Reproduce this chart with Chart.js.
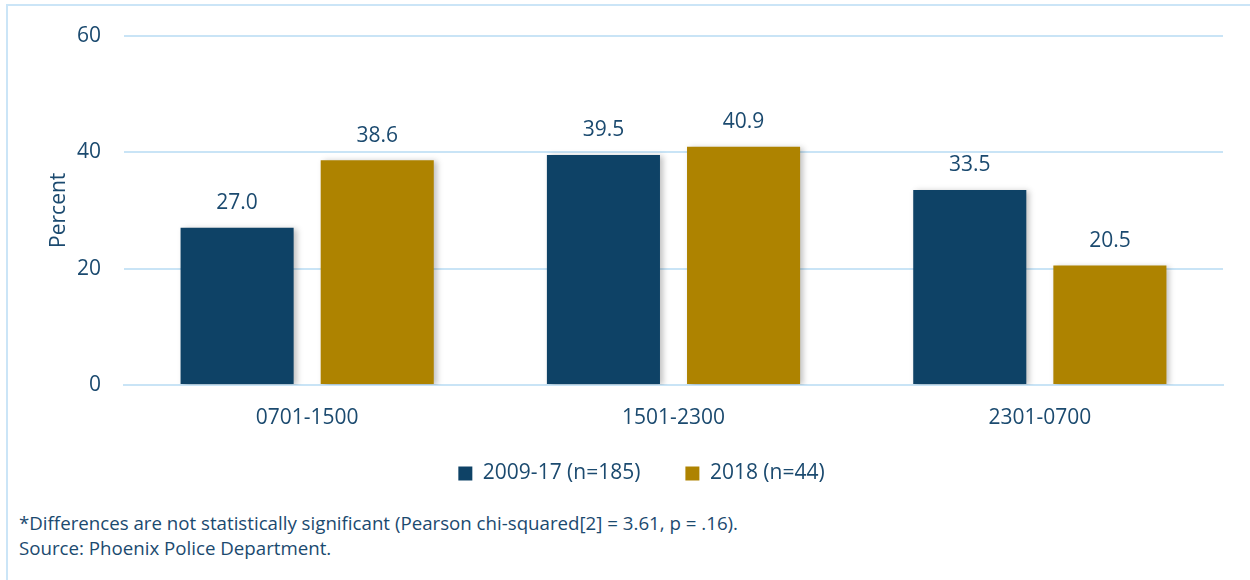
<!DOCTYPE html>
<html>
<head>
<meta charset="utf-8">
<script src="https://cdn.jsdelivr.net/npm/chart.js@4/dist/chart.umd.min.js"></script>
<style>
  html, body { margin: 0; padding: 0; background: #fff; }
  body { width: 1250px; height: 580px; position: relative; overflow: hidden; font-family: 'Open Sans', sans-serif; }
  .frame { position: absolute; left: 6px; top: 4px; right: -10px; bottom: -10px; border-top: 2px solid #cbe5f7; border-left: 2px solid #cbe5f7; }
  .wrap { position: absolute; left: 0; top: 0; width: 1250px; height: 506px; }
  .note { position: absolute; left: 19px; top: 510px; color: #1b4a6f; font-size: 18.7px; line-height: 25px; }
</style>
</head>
<body>
<div class="frame"></div>
<div class="wrap"><canvas id="bar-chart"></canvas></div>
<div class="note">
  *Differences are not statistically significant (Pearson chi-squared[2] = 3.61, p = .16).<br>
  Source: Phoenix Police Department.
</div>
<script>
const categories = ['0701-1500', '1501-2300', '2301-0700'];
const seriesNames = ['2009-17 (n=185)', '2018 (n=44)'];
const values0917 = [27.0, 39.5, 33.5];
const values2018 = [38.6, 40.9, 20.5];
const yTicks = [0, 20, 40, 60];

const NAVY = '#0e4266';
const GOLD = '#ae8300';
const TEXT = '#1b4a6f';
const GRID = '#c9e4f6';
const FONT = "'Open Sans', sans-serif";
const FS = 21;

// values over each bar
const valueLabels = {
  id: 'valueLabels',
  afterDatasetsDraw(chart) {
    const ctx = chart.ctx;
    ctx.save();
    ctx.fillStyle = TEXT;
    ctx.font = FS + 'px ' + FONT;
    ctx.textAlign = 'center';
    ctx.textBaseline = 'bottom';
    chart.data.datasets.forEach((ds, i) => {
      chart.getDatasetMeta(i).data.forEach((bar, j) => {
        ctx.fillText(ds.data[j].toFixed(1), bar.x, bar.y - 14);
      });
    });
    ctx.restore();
  }
};

// soft shadow on the bars
const barShadow = {
  id: 'barShadow',
  beforeDatasetsDraw(chart) {
    const ctx = chart.ctx;
    ctx.save();
    ctx.shadowColor = 'rgba(0,0,0,0.25)';
    ctx.shadowBlur = 6;
    ctx.shadowOffsetX = 3;
    ctx.shadowOffsetY = 1;
  },
  afterDatasetsDraw(chart) {
    chart.ctx.restore();
  }
};

// legend padding also spaces the items apart; nudge the block into place
const legendNudge = {
  id: 'legendNudge',
  afterLayout(chart) {
    const lg = chart.legend;
    lg.top -= 12;
    lg.bottom -= 12;
    lg.left += 7;
    lg.right += 7;
  }
};

new Chart(document.getElementById('bar-chart').getContext('2d'), {
  type: 'bar',
  data: {
    labels: categories,
    datasets: [
      { label: seriesNames[0], data: values0917, backgroundColor: NAVY },
      { label: seriesNames[1], data: values2018, backgroundColor: GOLD }
    ]
  },
  options: {
    responsive: true,
    maintainAspectRatio: false,
    animation: false,
    datasets: { bar: { categoryPercentage: 0.765, barPercentage: 0.807 } },
    layout: { padding: { left: 46, right: 27, top: 24, bottom: 0 } },
    plugins: {
      tooltip: { enabled: false },
      legend: {
        position: 'bottom',
        labels: {
          color: TEXT,
          font: { family: FONT, size: FS },
          boxWidth: 14,
          boxHeight: 14,
          padding: 45
        }
      }
    },
    scales: {
      x: {
        grid: { display: false },
        border: { color: GRID, width: 2 },
        ticks: { color: TEXT, font: { family: FONT, size: FS }, padding: 12 },
        afterFit: s => { s.height = 45; }
      },
      y: {
        min: 0,
        max: 60,
        afterBuildTicks: s => { s.ticks = yTicks.map(v => ({ value: v })); },
        grid: { color: GRID, lineWidth: 2, drawTicks: false },
        border: { display: false },
        ticks: { color: TEXT, font: { family: FONT, size: FS }, padding: 23 },
        title: { display: true, text: 'Percent', color: TEXT, font: { family: FONT, size: FS }, padding: 0 },
        afterFit: s => { s.width = 78; }
      }
    }
  },
  plugins: [barShadow, valueLabels, legendNudge]
});
</script>
</body>
</html>
